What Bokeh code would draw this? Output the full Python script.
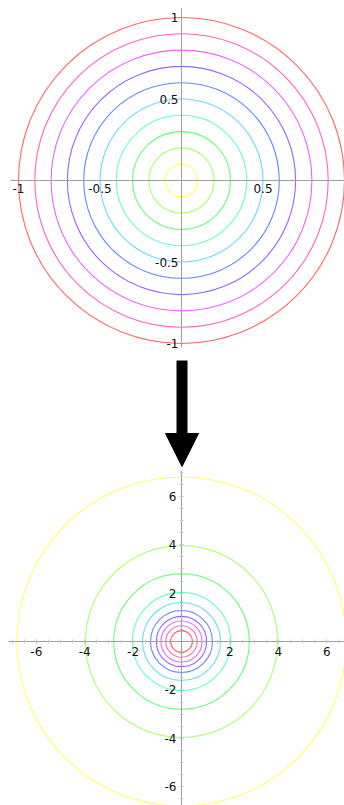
import colorsys

from bokeh.embed import file_html
from bokeh.layouts import column
from bokeh.models import Arrow, FixedTicker, LinearAxis, NormalHead, Range1d
from bokeh.plotting import figure
from bokeh.resources import INLINE

# Ten concentric circles in the unit disc (inner to outer)
disc_radii = [0.1, 0.2, 0.3, 0.4, 0.5, 0.6, 0.7, 0.8, 0.9, 1.0]
# Radii of their images after the mapping, same order as disc_radii
image_radii = [6.8, 3.97, 2.8, 2.03, 1.61, 1.28, 1.04, 0.85, 0.65, 0.45]

disc_x_ticks = [-1, -0.5, 0.5]
disc_x_tick_labels = ["-1", "-0.5", "0.5"]
disc_y_ticks = [-1, -0.5, 0.5, 1]
disc_y_tick_labels = ["-1", "-0.5", "0.5", "1"]
image_ticks = [-6, -4, -2, 2, 4, 6]
image_tick_labels = ["-6", "-4", "-2", "2", "4", "6"]
image_minor_ticks = [v / 2 for v in range(-14, 15) if v != 0]

# one hue per circle, yellow for the innermost disc circle round to red
hues = [60 + 33.3 * i for i in range(len(disc_radii))]
palette = []
for h in hues:
    r, g, b = colorsys.hls_to_rgb((h % 360) / 360, 0.70, 1.0)
    palette.append("#%02x%02x%02x" % (round(r * 255), round(g * 255), round(b * 255)))

FONT = "DejaVu Sans"
AXIS_COLOR = "#a0a0a0"


def plane(width, height, x_range, y_range):
    p = figure(width=width, height=height, x_range=Range1d(*x_range),
               y_range=Range1d(*y_range), output_backend="svg",
               toolbar_location=None, x_axis_location=None,
               y_axis_location=None, min_border=0)
    p.grid.visible = False
    p.outline_line_color = None
    p.background_fill_color = "white"
    p.border_fill_color = "white"
    return p


def crossing_axes(p, xticks, xlabels, yticks, ylabels, minor, xbounds, ybounds, show_ticks):
    specs = (("below", xbounds, xticks, xlabels), ("left", ybounds, yticks, ylabels))
    for side, bounds, ticks, labels in specs:
        ax = LinearAxis(fixed_location=0, bounds=bounds,
                        ticker=FixedTicker(ticks=ticks, minor_ticks=minor))
        ax.major_label_overrides = {t: s for t, s in zip(ticks, labels)}
        ax.axis_line_color = AXIS_COLOR
        ax.axis_line_width = 1
        ax.major_label_text_font = FONT
        ax.major_label_text_font_size = "12px"
        ax.major_label_text_color = "#111111"
        ax.major_label_standoff = 3
        if show_ticks:
            ax.major_tick_line_color = "#c8c8c8"
            ax.minor_tick_line_color = "#c8c8c8"
            ax.major_tick_in = 2
            ax.major_tick_out = 2
            ax.minor_tick_in = 2
            ax.minor_tick_out = 2
        else:
            ax.major_tick_line_color = None
            ax.minor_tick_line_color = None
            ax.major_tick_out = 0
            ax.major_tick_in = 0
        p.add_layout(ax, side)


# --- unit disc -------------------------------------------------------------
S1 = 163.0  # pixels per unit
top = plane(344, 352, (-181 / S1, 163 / S1), (-172 / S1, 180 / S1))
crossing_axes(top, disc_x_ticks, disc_x_tick_labels, disc_y_ticks, disc_y_tick_labels,
              [], (-171 / S1, 1.0), (-167 / S1, 172 / S1), False)
top.circle(x=[0] * len(disc_radii), y=[0] * len(disc_radii), radius=disc_radii,
           fill_color=None, line_color=palette, line_width=1.1)

# --- arrow between the two planes -----------------------------------------
mid = figure(width=344, height=118, x_range=Range1d(0, 344), y_range=Range1d(0, 118),
             output_backend="svg", toolbar_location=None, x_axis_location=None,
             y_axis_location=None, min_border=0)
mid.grid.visible = False
mid.outline_line_color = None
mid.add_layout(Arrow(x_start=181.5, y_start=110, x_end=181.5, y_end=4,
                     line_width=11, line_color="black",
                     end=NormalHead(size=33, fill_color="black", line_color="black",
                                    line_width=1)))

# --- image plane -----------------------------------------------------------
S2 = 24.2
bottom = plane(344, 335, (-181 / S2, 163 / S2), (-164 / S2, 171 / S2))
crossing_axes(bottom, image_ticks, image_tick_labels, image_ticks, image_tick_labels,
              image_minor_ticks, (-173 / S2, 163 / S2), (-164 / S2, 171 / S2), True)
bottom.circle(x=[0] * len(image_radii), y=[0] * len(image_radii), radius=image_radii,
              fill_color=None, line_color=palette, line_width=1.1)

layout = column(top, mid, bottom, spacing=0)
open("out.html", "w").write(file_html(layout, INLINE))
